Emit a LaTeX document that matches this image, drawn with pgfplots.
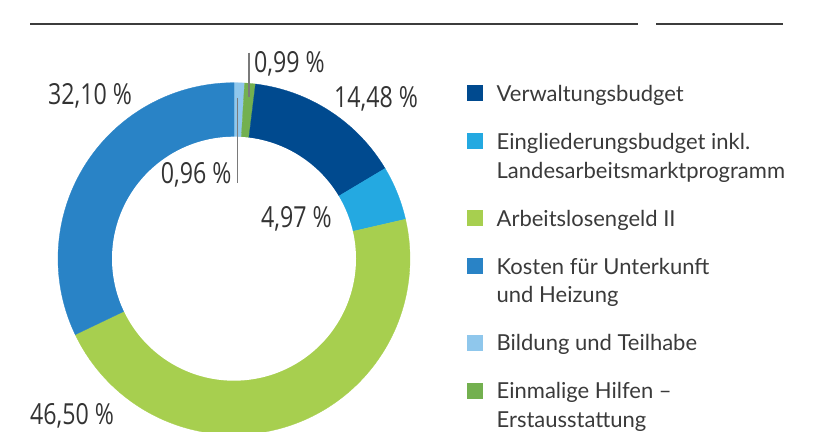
\documentclass[border=0pt]{standalone}
\usepackage{pgfplots}
\pgfplotsset{compat=1.18}
\usepackage{fontspec}
\setmainfont{Lato}
\newfontfamily\labelfont[FakeStretch=0.8]{Open Sans}
\definecolor{dkblue}{HTML}{004A8F}
\definecolor{cyanb}{HTML}{24A9E1}
\definecolor{lgreen}{HTML}{A7CF4F}
\definecolor{blueb}{HTML}{2983C6}
\definecolor{lblue}{HTML}{8FC7EC}
\definecolor{sgreen}{HTML}{73B04F}
\definecolor{txt}{HTML}{333333}
\definecolor{ltxt}{HTML}{3A3A3A}
\definecolor{rule}{HTML}{3C3C3C}
\definecolor{leader}{HTML}{7A7A7A}
% shares in percent, clockwise from 12 o'clock
\def\pLB{0.96}\def\pSG{0.99}\def\pDB{14.48}\def\pCY{4.97}\def\pLG{46.50}\def\pBL{32.10}
\pgfmathsetmacro\cA{0}
\pgfmathsetmacro\cB{\cA+\pLB}
\pgfmathsetmacro\cC{\cB+\pSG}
\pgfmathsetmacro\cD{\cC+\pDB}
\pgfmathsetmacro\cE{\cD+\pCY}
\pgfmathsetmacro\cF{\cE+\pLG}
\pgfmathsetmacro\cG{\cF+\pBL}
\newcommand\lbl[1]{{\labelfont\fontsize{29bp}{31bp}\selectfont #1}}
\newcommand\ent[1]{\begin{tabular}[t]{@{}l@{}}#1\end{tabular}}
\begin{document}
\begin{tikzpicture}
\useasboundingbox (0,0) rectangle (814bp,432bp);
\clip (0,0) rectangle (814bp,432bp);
\begin{axis}[
  at={(234bp,173.3bp)}, anchor=origin,
  scale only axis, width=814bp, height=432bp,
  xmin=-234, xmax=580, ymin=-173.3, ymax=258.7,
  hide axis, clip=true,
  legend image code/.code={\fill[#1,draw=none] (0bp,0bp) rectangle (16.5bp,16bp);},
  legend style={draw=none, fill=none, inner sep=0pt, outer sep=0pt,
    anchor=north west, at={(0.5733,0.8116)},
    row sep=19.3bp, column sep=13.5bp,
    nodes={inner sep=0pt, outer sep=0pt, text depth=, anchor=base west},
    cells={anchor=base west},
    font=\fontsize{22bp}{28.7bp}\selectfont, text=ltxt},
]
% donut sectors (pie + white hole)
\addplot[forget plot, fill=lblue, draw=lblue, line width=0.3bp, data cs=polar, domain={90-3.6*\cB}:{90-3.6*\cA}, samples=10] {176} -- (axis cs:0,0) -- cycle;
\addplot[forget plot, fill=sgreen, draw=sgreen, line width=0.3bp, data cs=polar, domain={90-3.6*\cC}:{90-3.6*\cB}, samples=10] {176} -- (axis cs:0,0) -- cycle;
\addplot[forget plot, fill=dkblue, draw=dkblue, line width=0.3bp, data cs=polar, domain={90-3.6*\cD}:{90-3.6*\cC}, samples=60] {176} -- (axis cs:0,0) -- cycle;
\addplot[forget plot, fill=cyanb, draw=cyanb, line width=0.3bp, data cs=polar, domain={90-3.6*\cE}:{90-3.6*\cD}, samples=30] {176} -- (axis cs:0,0) -- cycle;
\addplot[forget plot, fill=lgreen, draw=lgreen, line width=0.3bp, data cs=polar, domain={90-3.6*\cF}:{90-3.6*\cE}, samples=150] {176} -- (axis cs:0,0) -- cycle;
\addplot[forget plot, fill=blueb, draw=blueb, line width=0.3bp, data cs=polar, domain={90-3.6*\cG}:{90-3.6*\cF}, samples=110] {176} -- (axis cs:0,0) -- cycle;
\addplot[forget plot, fill=white, draw=none, data cs=polar, domain=0:360, samples=240] {122} -- cycle;
% leader lines
\addplot[forget plot, leader, line width=1.2bp] coordinates {(15,206) (15,162)};
\addplot[forget plot, leader, line width=1.2bp] coordinates {(3.3,160.7) (3.3,75.4)};
% top rules
\addplot[forget plot, rule, line width=1.3bp] coordinates {(-204,234.7) (404,234.7)};
\addplot[forget plot, rule, line width=1.3bp] coordinates {(422,234.7) (549,234.7)};
% labels
\node[anchor=base west, inner sep=0pt, text=txt] at (axis cs:20,185.7) {\lbl{0,99 \%}};
\node[anchor=base west, inner sep=0pt, text=txt] at (axis cs:-186,153.7) {\lbl{32,10 \%}};
\node[anchor=base west, inner sep=0pt, text=txt] at (axis cs:100,150.7) {\lbl{14,48 \%}};
\node[anchor=base west, inner sep=0pt, text=txt] at (axis cs:27,30.7) {\lbl{4,97 \%}};
\node[anchor=base east, inner sep=0pt, text=txt] at (axis cs:-2.3,74.7) {\lbl{0,96 \%}};
\node[anchor=base west, inner sep=0pt, text=txt] at (axis cs:-204,-165.5) {\lbl{46,50 \%}};
% legend
\addlegendimage{fill=dkblue}
\addlegendentry{\ent{Verwaltungsbudget}}
\addlegendimage{fill=cyanb}
\addlegendentry{\ent{Eingliederungsbudget inkl.\\Landesarbeitsmarktprogramm}}
\addlegendimage{fill=lgreen}
\addlegendentry{\ent{Arbeitslosengeld II}}
\addlegendimage{fill=blueb}
\addlegendentry{\ent{Kosten für Unterkunft\\und Heizung}}
\addlegendimage{fill=lblue}
\addlegendentry{\ent{Bildung und Teilhabe}}
\addlegendimage{fill=sgreen}
\addlegendentry{\ent{Einmalige Hilfen –\\Erstausstattung}}
\end{axis}
\end{tikzpicture}
\end{document}
